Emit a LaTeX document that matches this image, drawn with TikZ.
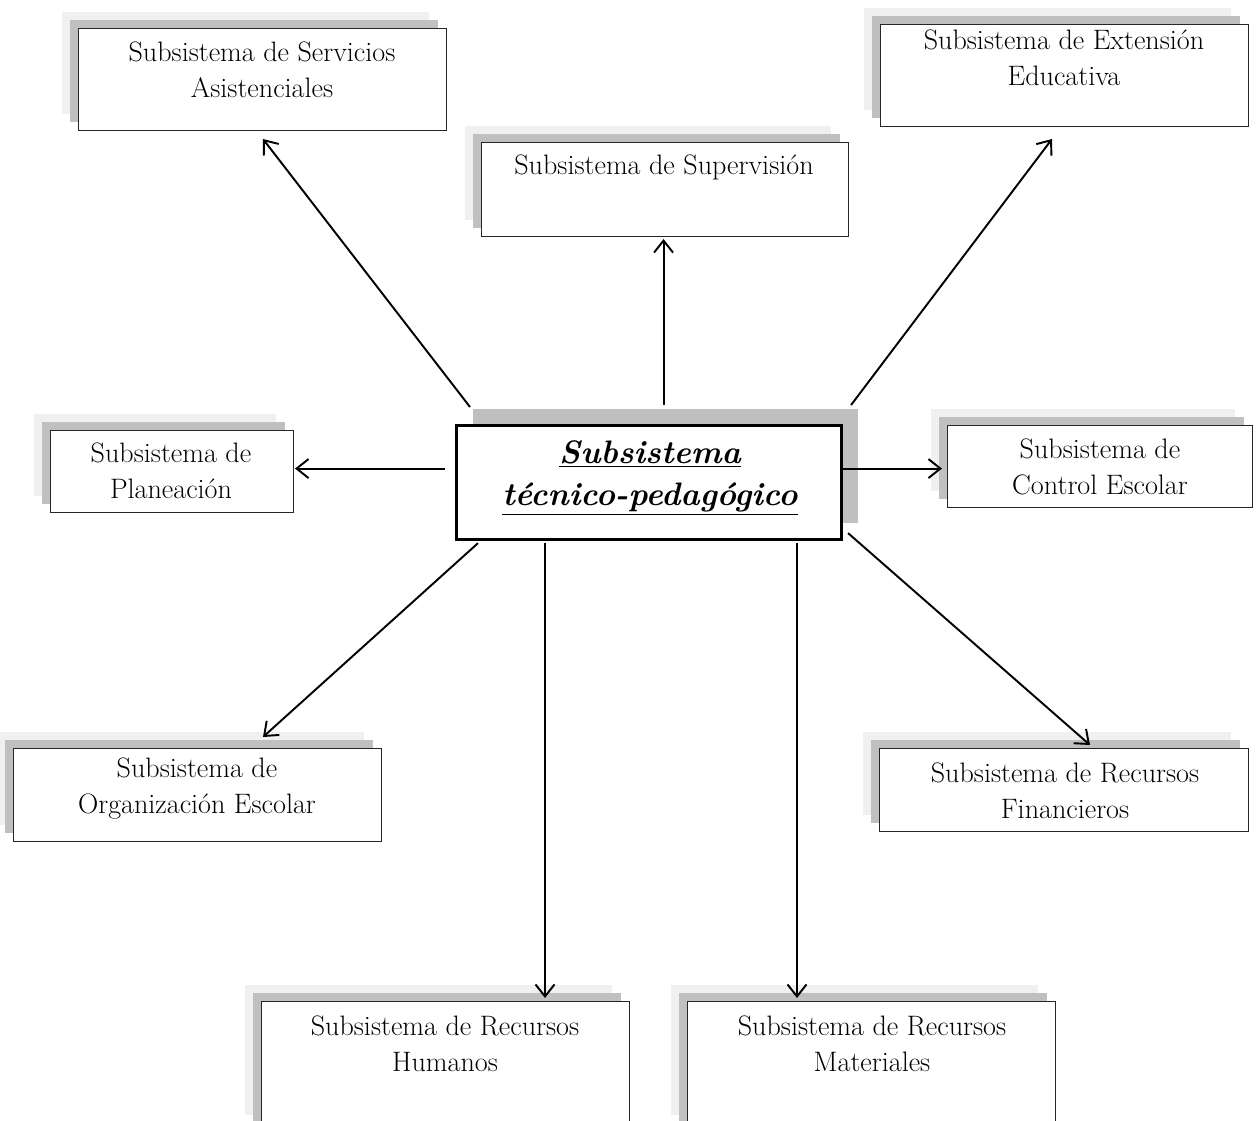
\documentclass[tikz,border=0pt]{standalone}
\usetikzlibrary{arrows.meta,calc}
\definecolor{shlight}{HTML}{F0F0F0}
\definecolor{shdark}{HTML}{C0C0C0}
\begin{document}
\begin{tikzpicture}[x=0.02cm,y=-0.02cm,
  sbox/.style={draw=black!85, line width=0.6pt, fill=white, rectangle, inner sep=0pt, anchor=north west,
    preaction={fill=shlight, transform canvas={shift={(-0.34cm,0.34cm)}}},
    preaction={fill=shdark, transform canvas={shift={(-0.17cm,0.17cm)}}}},
  cbox/.style={draw=black, line width=1.8pt, fill=white, rectangle, inner sep=0pt, anchor=north west,
    preaction={fill=shdark, transform canvas={shift={(0.32cm,0.34cm)}}}},
  lbl/.style={align=center, inner sep=0pt, font=\fontsize{16}{20.5}\selectfont},
  clbl/.style={align=center, inner sep=0pt, font=\fontsize{18.5}{23.5}\selectfont\bfseries\itshape},
  arr/.style={line width=1.1pt, -{Straight Barb[length=0.24cm, width=0.38cm, line width=1.1pt]}}]
\clip (0,0) rectangle (1259,1121);
\fill[white] (0,0) rectangle (1259,1121);

% outer subsystems
\node[sbox, minimum width=7.36cm, minimum height=2.04cm] (serv) at (78,28) {};
\node[lbl] (servT) at (262,70) {Subsistema de Servicios\\Asistenciales};

\node[sbox, minimum width=7.34cm, minimum height=1.88cm] (sup) at (481,142) {};
\node[lbl] (supT) at (664,167) {Subsistema de Supervisión};

\node[sbox, minimum width=7.36cm, minimum height=2.04cm] (ext) at (880,24) {};
\node[lbl] (extT) at (1064,58) {Subsistema de Extensión\\Educativa};

\node[sbox, minimum width=4.86cm, minimum height=1.64cm] (plan) at (50,430) {};
\node[lbl] (planT) at (171,471) {Subsistema de\\Planeación};

\node[sbox, minimum width=6.10cm, minimum height=1.64cm] (ctrl) at (947,425) {};
\node[lbl] (ctrlT) at (1100,467) {Subsistema de\\Control Escolar};

\node[sbox, minimum width=7.36cm, minimum height=1.86cm] (org) at (13,748) {};
\node[lbl] (orgT) at (197,789) {Subsistema de\\Organización Escolar};

\node[sbox, minimum width=7.38cm, minimum height=1.66cm] (fin) at (879,748) {};
\node[lbl] (finT) at (1065,791) {Subsistema de Recursos\\Financieros};

\node[sbox, minimum width=7.36cm, minimum height=2.60cm] (hum) at (261,1001) {};
\node[lbl] (humT) at (445,1044) {Subsistema de Recursos\\Humanos};

\node[sbox, minimum width=7.36cm, minimum height=2.60cm] (mat) at (687,1001) {};
\node[lbl] (matT) at (872,1044) {Subsistema de Recursos\\Materiales};

% central subsystem
\node[cbox, minimum width=7.70cm, minimum height=2.28cm] (c) at (455,424) {};
\node[clbl] (cT) at (650,478) {\underline{Subsistema}\\\underline{técnico-pedagógico}};

% connectors
\draw[arr] ($(c.north west)+(15,-17)$) -- ($(serv.south west)+(185,8)$);
\draw[arr] ($(c.north)+(14.5,-19)$) coordinate (supS) -- ([yshift=-0.04cm]supS |- sup.south);
\draw[arr] ($(c.north east)+(8,-19)$) -- ($(ext.south west)+(172,12)$);
\draw[arr] ($(c.west)+(-10,-14)$) coordinate (planS) -- ([xshift=0.02cm]planS -| plan.east);
\draw[arr] ($(c.east)+(0,-14)$) coordinate (ctrlS) -- ([xshift=-0.1cm]ctrlS -| ctrl.west);
\draw[arr] ($(c.south west)+(23,2)$) -- ($(org.north west)+(250,-11)$);
\draw[arr] ($(c.south west)+(90,2)$) coordinate (humS) -- ([yshift=0.06cm]humS |- hum.north);
\draw[arr] ($(c.south west)+(342,2)$) coordinate (matS) -- ([yshift=0.06cm]matS |- mat.north);
\draw[arr] ($(c.south east)+(5,-8)$) -- ($(fin.north west)+(211,-3)$);
\end{tikzpicture}
\end{document}
